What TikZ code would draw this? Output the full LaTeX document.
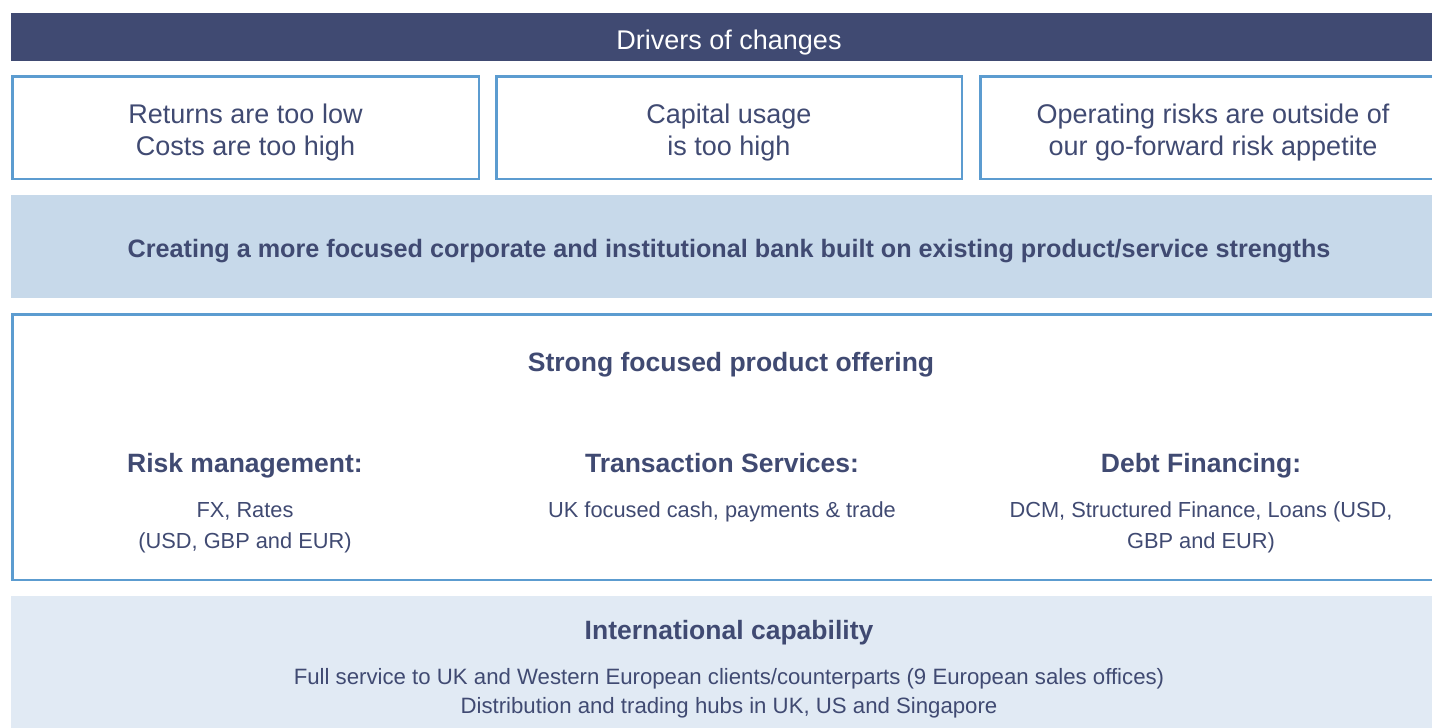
\documentclass[tikz,border=0pt]{standalone}
\usepackage{fontspec}
\setmainfont{Liberation Sans}
\definecolor{navy}{RGB}{64,74,114}
\definecolor{edgeblue}{RGB}{92,156,208}
\definecolor{bandA}{RGB}{199,217,234}
\definecolor{bandB}{RGB}{225,234,244}
\tikzset{
  boxline/.style={draw=edgeblue,line width=2.5pt,fill=white},
  big/.style={text=navy,font=\fontsize{27}{32}\selectfont,align=center,inner sep=0pt},
  bighead/.style={text=navy,font=\fontsize{26.5}{31}\selectfont\bfseries,align=center,inner sep=0pt},
  small/.style={text=navy,font=\fontsize{21.8}{31}\selectfont,align=center,inner sep=0pt},
}
\begin{document}
\begin{tikzpicture}[x=1pt,y=-1pt]
\useasboundingbox (0,0) rectangle (1432,728);
\fill[white] (0,0) rectangle (1432,728);
% header
\fill[navy] (11,13) rectangle (1460,61);
\node[big,text=white,anchor=base] (hdr) at (729,49) {Drivers of changes};
% three driver boxes
\draw[boxline] (12.25,76.25) rectangle (478.75,178.75);
\draw[boxline] (496.25,76.25) rectangle (961.75,178.75);
\draw[boxline] (980.25,76.25) rectangle (1446,178.75);
\node[big] (d1) at (245.5,132.5) {Returns are too low\\Costs are too high};
\node[big] (d2) at (729,132.5) {Capital usage\\is too high};
\node[big] (d3) at (1213,132.5) {Operating risks are outside of\\our go-forward risk appetite};
% focus band
\fill[bandA] (11,195) rectangle (1460,298);
\node[text=navy,font=\fontsize{25.2}{30}\selectfont\bfseries,inner sep=0pt,anchor=base] (focus) at (729,257.5)
  {Creating a more focused corporate and institutional bank built on existing product/service strengths};
% product offering box
\draw[boxline] (12.25,314.25) rectangle (1446,579.75);
\node[bighead,anchor=base] (prod) at (731,371) {Strong focused product offering};
\node[bighead,anchor=base] (rm) at (245,472.5) {Risk management:};
\node[bighead,anchor=base] (ts) at (722,472.5) {Transaction Services:};
\node[bighead,anchor=base] (df) at (1201,472.5) {Debt Financing:};
\node[small] (rmt) at (245,527.5) {FX, Rates\\(USD, GBP and EUR)};
\node[small,anchor=base] (tst) at (722,517.5) {UK focused cash, payments \& trade};
\node[small] (dft) at (1201,527.5) {DCM, Structured Finance, Loans (USD,\\GBP and EUR)};
% international band
\fill[bandB] (11,596) rectangle (1460,740);
\node[bighead,anchor=base] (intl) at (729,639.5) {International capability};
\node[small,font=\fontsize{22.2}{29}\selectfont] (intlt) at (729,693)
  {Full service to UK and Western European clients/counterparts (9 European sales offices)\\Distribution and trading hubs in UK, US and Singapore};
\end{tikzpicture}
\end{document}
